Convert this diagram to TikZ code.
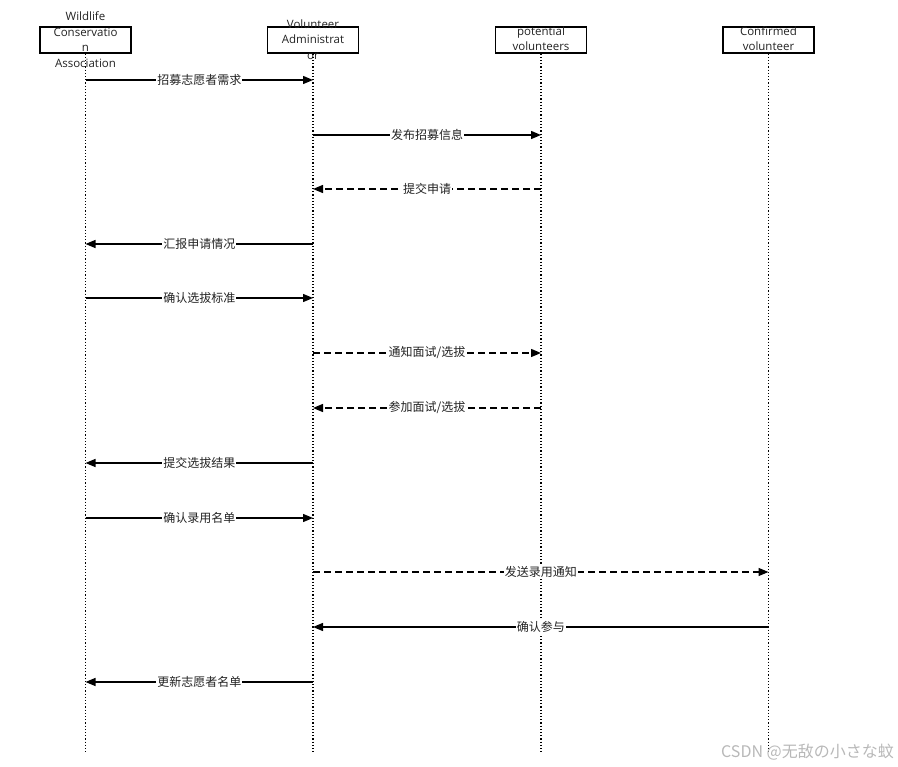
\documentclass[tikz,border=0pt]{standalone}
\usepackage{fontspec}
\setmainfont{Open Sans}
\newfontfamily\cjk{Noto Sans CJK SC}
\usetikzlibrary{arrows.meta}
\definecolor{txt}{HTML}{222222}
\tikzset{
  actorbox/.style={draw=black, line width=1.3pt, minimum width=91pt, minimum height=26pt, inner sep=0pt},
  actortxt/.style={align=center, font=\fontsize{11.5}{15.5}\selectfont, text=txt, inner sep=0pt},
  lifeline/.style={dotted, line width=1.2pt},
  msg/.style={line width=1.4pt, -{Triangle[length=10pt,width=8pt]}},
  rmsg/.style={msg, dash pattern=on 7pt off 4pt},
  lbl/.style={fill=white, inner sep=1pt, font=\fontsize{12}{14}\selectfont\cjk, text=txt},
}
\begin{document}
\begin{tikzpicture}[x=1pt,y=-1pt]
\useasboundingbox (0,0) rectangle (898,767);
% actor boxes
\node[actorbox] (A) at (85.5,40) {};
\node[actorbox] (B) at (313,40) {};
\node[actorbox] (C) at (541,40) {};
\node[actorbox] (D) at (768.5,40) {};
\node[actortxt] (At) at (85.5,39.5) {Wildlife\\Conservatio\\n\\Association};
\node[actortxt] (Bt) at (313,39.5) {Volunteer\\Administrat\\or};
\node[actortxt] (Ct) at (541,38.5) {potential\\volunteers};
\node[actortxt] (Dt) at (768.5,38.5) {Confirmed\\volunteer};
% lifeline ends
\coordinate (Ae) at (85.5,752);
\coordinate (Be) at (313,752);
\coordinate (Ce) at (541,752);
\coordinate (De) at (768.5,752);
\draw[lifeline] (A.south) -- (Ae);
\draw[lifeline] (B.south) -- (Be);
\draw[lifeline] (C.south) -- (Ce);
\draw[lifeline] (D.south) -- (De);
% messages
\draw[msg] (A.south |- 0,80) -- node[lbl]{招募志愿者需求} (B.south |- 0,80);
\draw[msg] (B.south |- 0,135) -- node[lbl]{发布招募信息} (C.south |- 0,135);
\draw[rmsg] (C.south |- 0,189) -- node[lbl]{提交申请} (B.south |- 0,189);
\draw[msg] (B.south |- 0,244) -- node[lbl]{汇报申请情况} (A.south |- 0,244);
\draw[msg] (A.south |- 0,298) -- node[lbl]{确认选拔标准} (B.south |- 0,298);
\draw[rmsg] (B.south |- 0,353) -- node[lbl]{通知面试/选拔} (C.south |- 0,353);
\draw[rmsg] (C.south |- 0,408) -- node[lbl]{参加面试/选拔} (B.south |- 0,408);
\draw[msg] (B.south |- 0,463) -- node[lbl]{提交选拔结果} (A.south |- 0,463);
\draw[msg] (A.south |- 0,518) -- node[lbl]{确认录用名单} (B.south |- 0,518);
\draw[rmsg] (B.south |- 0,572) -- node[lbl]{发送录用通知} (D.south |- 0,572);
\draw[msg] (D.south |- 0,627) -- node[lbl]{确认参与} (B.south |- 0,627);
\draw[msg] (B.south |- 0,682) -- node[lbl]{更新志愿者名单} (A.south |- 0,682);
% watermark
\node[anchor=east, inner sep=0pt, text=black!28, font=\fontsize{16}{18}\selectfont\cjk] (wm) at (894,752) {CSDN @无敌の小さな蚊};
\end{tikzpicture}
\end{document}
